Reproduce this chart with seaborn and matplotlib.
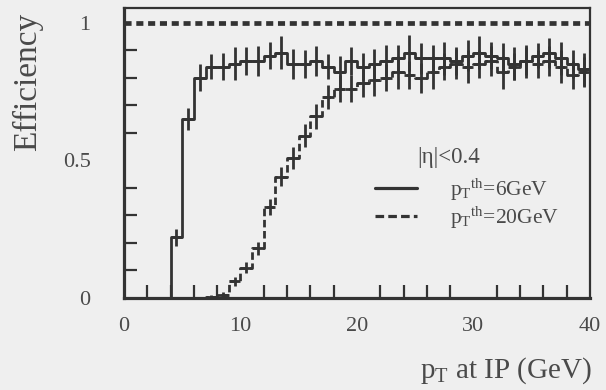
import numpy as np
import pandas as pd
import matplotlib
matplotlib.use("Agg")
import matplotlib.pyplot as plt
from matplotlib.ticker import MultipleLocator, FixedLocator
import seaborn as sns

# ---------------- data ----------------
pt_bin_centers = np.arange(0.5, 40.0, 1.0)   # 1 GeV bins, 0..40 GeV

eff_6gev = [0, 0, 0, 0, 0.22, 0.65, 0.80, 0.84, 0.84, 0.85,
            0.86, 0.86, 0.88, 0.89, 0.85, 0.85, 0.86, 0.84, 0.82, 0.86,
            0.84, 0.85, 0.86, 0.87, 0.89, 0.87, 0.87, 0.87, 0.86, 0.88,
            0.89, 0.88, 0.87, 0.85, 0.86, 0.88, 0.89, 0.87, 0.85, 0.83]
err_6gev = [0, 0, 0, 0, 0.03, 0.04, 0.05, 0.045, 0.05, 0.06,
            0.05, 0.055, 0.05, 0.06, 0.055, 0.05, 0.055, 0.045, 0.06, 0.05,
            0.05, 0.055, 0.06, 0.05, 0.065, 0.055, 0.05, 0.06, 0.05, 0.055,
            0.06, 0.05, 0.055, 0.06, 0.05, 0.045, 0.055, 0.06, 0.05, 0.06]

eff_20gev = [0, 0, 0, 0, 0, 0, 0, 0.005, 0.01, 0.06,
             0.11, 0.18, 0.33, 0.44, 0.51, 0.59, 0.66, 0.73, 0.76, 0.76,
             0.78, 0.79, 0.80, 0.82, 0.81, 0.80, 0.82, 0.84, 0.85, 0.84,
             0.85, 0.86, 0.82, 0.84, 0.86, 0.85, 0.86, 0.84, 0.81, 0.82]
err_20gev = [0, 0, 0, 0, 0, 0, 0, 0.005, 0.01, 0.015,
             0.02, 0.025, 0.03, 0.035, 0.04, 0.04, 0.045, 0.045, 0.05, 0.05,
             0.05, 0.055, 0.05, 0.06, 0.05, 0.055, 0.06, 0.05, 0.055, 0.06,
             0.05, 0.055, 0.06, 0.05, 0.06, 0.05, 0.055, 0.06, 0.05, 0.055]

full_efficiency = 1.0
x_ticks = [0, 10, 20, 30, 40]
x_tick_labels = ["0", "10", "20", "30", "40"]
y_ticks = [0, 0.5, 1.0]
y_tick_labels = ["0", "0.5", "1"]
eta_label = "|η|<0.4"
label_6gev = r"p$_{\mathrm{T}}{}^{\mathrm{th}}$=6GeV"
label_20gev = r"p$_{\mathrm{T}}{}^{\mathrm{th}}$=20GeV"

# ---------------- style ----------------
sns.set_theme(style="white")
plt.rcParams["font.family"] = ["Liberation Serif", "DejaVu Serif"]
plt.rcParams["mathtext.fontset"] = "custom"
plt.rcParams["mathtext.rm"] = "Liberation Serif"
plt.rcParams["mathtext.it"] = "Liberation Serif:italic"
plt.rcParams["mathtext.bf"] = "Liberation Serif:bold"

bg = "#efefef"
ink = "#333333"
txt = "#4a4a4a"

df = pd.DataFrame({"pt": pt_bin_centers, "eff6": eff_6gev, "eff20": eff_20gev,
                   "err6": err_6gev, "err20": err_20gev})

fig = plt.figure(figsize=(6.06, 3.90), dpi=100, facecolor=bg)
ax = fig.add_axes([0.2046, 0.2359, 0.769, 0.7436], facecolor=bg)

dash = (0, (2.7, 1.3))

sns.histplot(data=df, x="pt", weights="eff6", binwidth=1, binrange=(0, 40),
             element="step", fill=False, color=ink, linewidth=2.0, ax=ax)
sns.histplot(data=df, x="pt", weights="eff20", binwidth=1, binrange=(0, 40),
             element="step", fill=False, color=ink, linewidth=2.0,
             linestyle=dash, ax=ax)

m6 = df["eff6"] > 0
ax.errorbar(df.loc[m6, "pt"], df.loc[m6, "eff6"], yerr=df.loc[m6, "err6"],
            xerr=0.5, fmt="none", ecolor=ink, elinewidth=2.0, capsize=0)
m20 = df["eff20"] > 0
ax.errorbar(df.loc[m20, "pt"], df.loc[m20, "eff20"], yerr=df.loc[m20, "err20"],
            xerr=0.5, fmt="none", ecolor=ink, elinewidth=2.0, capsize=0)

ax.axhline(full_efficiency, color=ink, linewidth=3.4, linestyle=(0, (1.5, 1.0)))

ax.set_xlim(0, 40)
ax.set_ylim(0, 1.053)

ax.xaxis.set_major_locator(FixedLocator(x_ticks))
ax.set_xticklabels(x_tick_labels)
ax.xaxis.set_minor_locator(MultipleLocator(2))
ax.yaxis.set_major_locator(FixedLocator(y_ticks))
ax.set_yticklabels(y_tick_labels)
ax.yaxis.set_minor_locator(MultipleLocator(0.1))

ax.tick_params(which="major", direction="in", length=18.5, width=2.0,
               color=ink, labelsize=16, labelcolor=txt, top=False, right=False)
ax.tick_params(which="minor", direction="in", length=9.5, width=1.6,
               color=ink, top=False, right=False, left=True, bottom=True)
ax.tick_params(axis="y", which="major", pad=24)
ax.tick_params(axis="x", which="major", pad=14)

for side in ["left", "bottom"]:
    ax.spines[side].set_linewidth(2.3)
for side in ["top", "right"]:
    ax.spines[side].set_linewidth(1.6)
for s in ax.spines.values():
    s.set_color(ink)
    s.set_visible(True)

ax.set_ylabel("Efficiency", fontsize=24, color=txt)
ax.yaxis.set_label_coords(-0.174, 0.745)
ax.set_xlabel(r"p$_{\mathrm{T}}$ at IP (GeV)", fontsize=21, color=txt, loc="right")
ax.xaxis.set_label_coords(1.004, -0.197)

# legend
ax.text(0.629, 0.4655, eta_label, transform=ax.transAxes, fontsize=16.5,
        color=txt, ha="left", va="baseline")
ax.plot([0.5386, 0.6288], [0.379, 0.379], transform=ax.transAxes,
        color=ink, linewidth=2.3)
ax.plot([0.5386, 0.6288], [0.283, 0.283], transform=ax.transAxes,
        color=ink, linewidth=2.3, linestyle=dash)
ax.text(0.70, 0.352, label_6gev, transform=ax.transAxes, fontsize=15.5,
        color=txt, ha="left", va="baseline")
ax.text(0.70, 0.255, label_20gev, transform=ax.transAxes, fontsize=15.5,
        color=txt, ha="left", va="baseline")

fig.savefig("out.png", dpi=100, facecolor=bg)
